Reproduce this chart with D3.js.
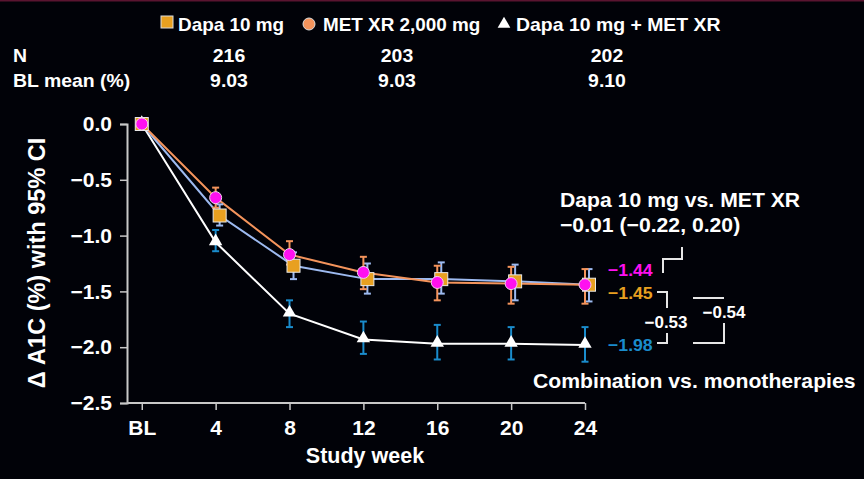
<!DOCTYPE html>
<html>
<head>
<meta charset="utf-8">
<script src="https://cdn.jsdelivr.net/npm/d3@7"></script>
<style>
  body { margin: 0; background: #000; }
  svg { display: block; font-family: "Liberation Sans", Arial, sans-serif; font-weight: bold; }
</style>
</head>
<body>
<svg id="chart"></svg>
<script>
// Data
const weeks = [0, 4, 8, 12, 16, 20, 24];
const weekLabels = ["BL", "4", "8", "12", "16", "20", "24"];
const yTicks = [0, -0.5, -1.0, -1.5, -2.0, -2.5];

const dapaMean = [0, -0.82, -1.27, -1.39, -1.39, -1.41, -1.44];
const dapaLo = [0, -0.91, -1.39, -1.52, -1.52, -1.58, -1.59];
const dapaHi = [0, -0.72, -1.15, -1.25, -1.24, -1.26, -1.30];

const metMean = [0, -0.66, -1.17, -1.33, -1.42, -1.43, -1.44];
const metLo = [0, -0.75, -1.26, -1.48, -1.58, -1.61, -1.61];
const metHi = [0, -0.57, -1.05, -1.19, -1.27, -1.28, -1.30];

const comboMean = [0, -1.06, -1.70, -1.93, -1.97, -1.97, -1.98];
const comboLo = [0, -1.14, -1.82, -2.06, -2.11, -2.11, -2.13];
const comboHi = [0, -0.95, -1.58, -1.77, -1.80, -1.82, -1.82];

const legendNames = ["Dapa 10 mg", "MET XR 2,000 mg", "Dapa 10 mg + MET XR"];
const nValues = ["216", "203", "202"];
const blMeans = ["9.03", "9.03", "9.10"];

const width = 864;
const height = 479;

const svg = d3.select("#chart").attr("width", width).attr("height", height);

svg.append("rect").attr("width", width).attr("height", height).attr("fill", "#010208");
svg.append("line")
  .attr("x1", 0).attr("x2", width).attr("y1", 0.5).attr("y2", 0.5)
  .attr("stroke", "#5a1430").attr("stroke-width", 2);

// slide text is a little wider than plain Arial, so stretch it a bit
function label(g, x, y, txt, size, sx, anchor, color) {
  return g.append("text")
    .attr("transform", `translate(${x},${y}) scale(${sx},1)`)
    .attr("text-anchor", anchor || "start")
    .attr("fill", color || "#fff")
    .style("font-size", size + "px")
    .text(txt);
}

const x = d3.scaleLinear().domain([-0.8, 24]).range([127, 585]);
const y = d3.scaleLinear().domain([-2.5, 0]).range([403, 124]);

const orange = "#e8a020";
const lineOrange = "#f4945c";
const lightBlue = "#9dbaf0";
const magenta = "#ff10f0";
const blue = "#1a8ccc";
const axisGrey = "#c8c8c8";

// Legend
const legend = svg.append("g");
legend.append("rect").attr("x", 161).attr("y", 16).attr("width", 12).attr("height", 12)
  .attr("fill", orange).attr("stroke", "#ddd").attr("stroke-width", 1);
label(legend, 178, 31, legendNames[0], 18, 1.05);
legend.append("circle").attr("cx", 309).attr("cy", 24).attr("r", 6)
  .attr("fill", lineOrange).attr("stroke", "#ddd").attr("stroke-width", 1);
label(legend, 323, 31, legendNames[1], 18, 1.05);
legend.append("path").attr("d", d3.symbol(d3.symbolTriangle, 70)())
  .attr("transform", "translate(504,24)").attr("fill", "#fff");
label(legend, 516, 31, legendNames[2], 18, 1.08);

// N / BL mean table
const table = svg.append("g");
label(table, 13, 62, "N", 18, 1.08);
label(table, 13, 87, "BL mean (%)", 18, 1.08);
const colX = [229, 397, 607];
nValues.forEach((v, i) => {
  label(table, colX[i], 62, v, 18, 1.08, "middle");
  label(table, colX[i], 87, blMeans[i], 18, 1.08, "middle");
});

// Axes
const yAxis = svg.append("g")
  .attr("transform", "translate(127,0)")
  .call(d3.axisLeft(y).tickValues(yTicks).tickFormat(d3.format(".1f")).tickSize(7).tickPadding(8));
const xAxis = svg.append("g")
  .attr("transform", "translate(0,403)")
  .call(d3.axisBottom(x).tickValues(weeks).tickFormat((d, i) => weekLabels[i]).tickSize(7).tickPadding(10));
[xAxis, yAxis].forEach((g) => {
  g.select(".domain").attr("stroke", axisGrey).attr("stroke-width", 2);
  g.selectAll(".tick line").attr("stroke", axisGrey).attr("stroke-width", 1.5);
  g.selectAll("text").attr("fill", "#fff").style("font-size", "21px").style("font-weight", "bold")
    .style("font-family", "'Liberation Sans', Arial, sans-serif");
});
xAxis.select(".domain").attr("d", "M127,0H585");
yAxis.selectAll("text").text((d) => d3.format(".1f")(d).replace("-", "\u2212"));

svg.append("text")
  .attr("transform", "translate(45,263) rotate(-90)")
  .attr("text-anchor", "middle").attr("fill", "#fff").style("font-size", "23.5px")
  .text("\u0394 A1C (%) with 95% CI");
svg.append("text")
  .attr("x", 365).attr("y", 463).attr("text-anchor", "middle")
  .attr("fill", "#fff").style("font-size", "21.5px").text("Study week");

// Series
const series = [
  { mean: comboMean, lo: comboLo, hi: comboHi, line: "#ffffff", bar: blue, dx: 0 },
  { mean: dapaMean, lo: dapaLo, hi: dapaHi, line: lightBlue, bar: lightBlue, dx: 4 },
  { mean: metMean, lo: metLo, hi: metHi, line: lineOrange, bar: lineOrange, dx: 0 },
];

series.forEach((s) => {
  const pts = weeks.map((w, i) => ({ w, v: s.mean[i], lo: s.lo[i], hi: s.hi[i] }));
  svg.append("path").datum(pts)
    .attr("fill", "none").attr("stroke", s.line).attr("stroke-width", 2)
    .attr("d", d3.line().x((d) => x(d.w) + (d.w > 0 ? s.dx : 0)).y((d) => y(d.v)));
  s.pts = pts;
});

series.forEach((s) => {
  const bars = svg.append("g").attr("stroke", s.bar).attr("stroke-width", 2);
  s.pts.filter((d) => d.w > 0).forEach((d) => {
    const cx = x(d.w) + s.dx;
    bars.append("line").attr("x1", cx).attr("x2", cx).attr("y1", y(d.lo)).attr("y2", y(d.hi));
    bars.append("line").attr("x1", cx - 3.5).attr("x2", cx + 3.5).attr("y1", y(d.lo)).attr("y2", y(d.lo));
    bars.append("line").attr("x1", cx - 3.5).attr("x2", cx + 3.5).attr("y1", y(d.hi)).attr("y2", y(d.hi));
  });
});

// Markers
svg.append("g").selectAll("path").data(series[0].pts).join("path")
  .attr("d", d3.symbol(d3.symbolTriangle, 78)())
  .attr("transform", (d) => `translate(${x(d.w)},${y(d.v) - 1})`)
  .attr("fill", "#fff");

svg.append("g").selectAll("rect").data(series[1].pts).join("rect")
  .attr("x", (d) => x(d.w) + (d.w > 0 ? 4 : 0) - 6.5)
  .attr("y", (d) => y(d.v) - 6.5)
  .attr("width", 13).attr("height", 13)
  .attr("fill", orange).attr("stroke", "#e8e8e8").attr("stroke-width", 1);

svg.append("g").selectAll("circle").data(series[2].pts).join("circle")
  .attr("cx", (d) => x(d.w)).attr("cy", (d) => y(d.v)).attr("r", 6)
  .attr("fill", magenta).attr("stroke", "#f0d0f0").attr("stroke-width", 1);

// Annotations
const ann = svg.append("g");
label(ann, 560, 207, "Dapa 10 mg vs. MET XR", 20, 1.06);
label(ann, 560, 232, "\u22120.01 (\u22120.22, 0.20)", 20, 1.06);
label(ann, 533, 388, "Combination vs. monotherapies", 20, 1.06);

const endVals = [
  { text: "\u22121.44", color: magenta, y: 276 },
  { text: "\u22121.45", color: orange, y: 299 },
  { text: "\u22121.98", color: blue, y: 351 },
];
endVals.forEach((e) => label(svg, 608, e.y, e.text, 17, 1.04, "start", e.color));

const brackets = svg.append("g").attr("fill", "none").attr("stroke", "#e6e6e6").attr("stroke-width", 2);
brackets.append("path").attr("d", "M663,273V259H682V247");
brackets.append("path").attr("d", "M657,292H667V308");
brackets.append("path").attr("d", "M667,333V343H657");
brackets.append("path").attr("d", "M693,298H724");
brackets.append("path").attr("d", "M724,323V343H693");
label(svg, 666, 328, "\u22120.53", 16.5, 1.03, "middle");
label(svg, 724, 318, "\u22120.54", 16.5, 1.03, "middle");
</script>
</body>
</html>
